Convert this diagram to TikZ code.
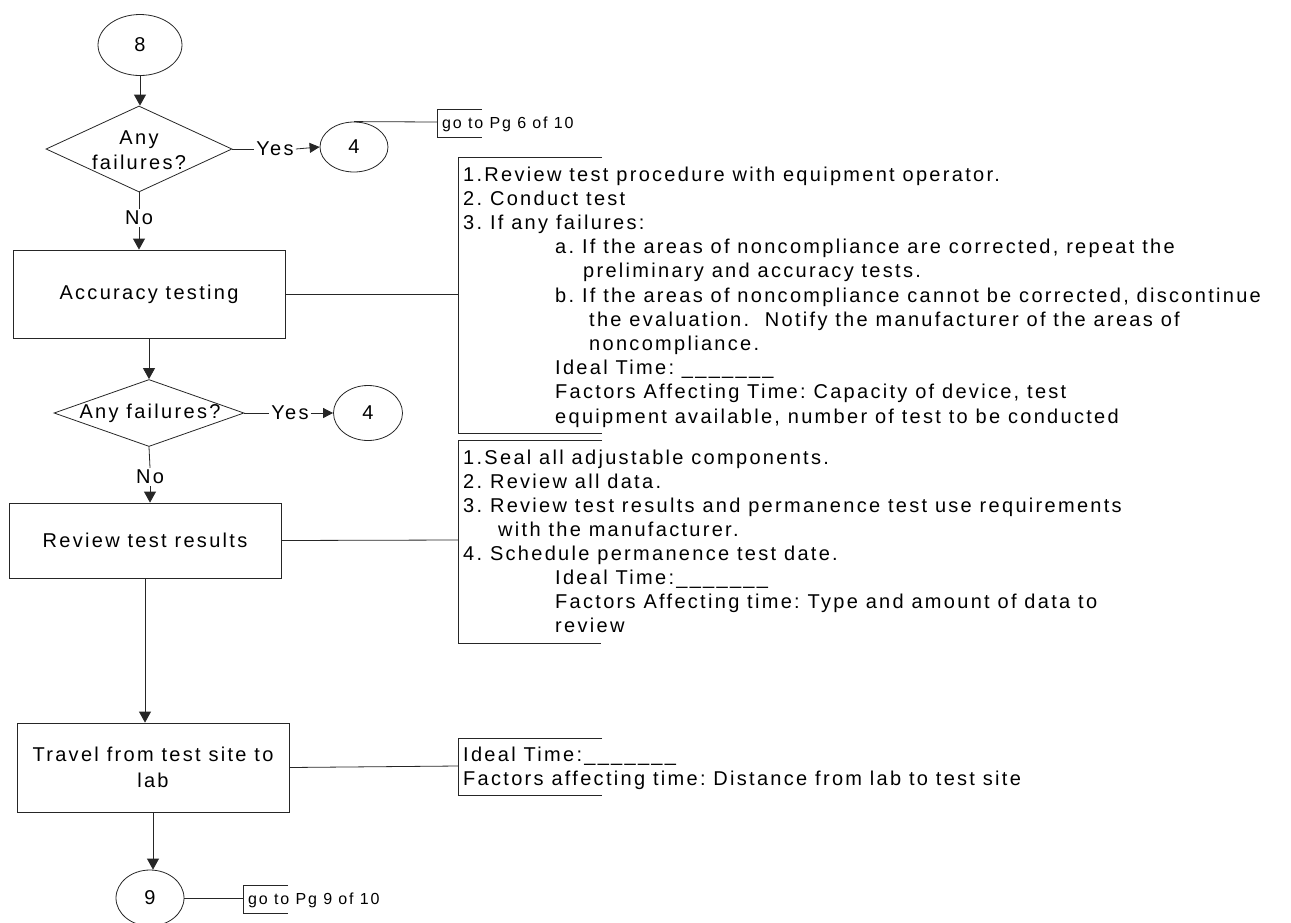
\documentclass[tikz,border=0pt]{standalone}
\usepackage{fontspec}
\setmainfont{Liberation Sans}[LetterSpace=11.5]
\usetikzlibrary{shapes.geometric,arrows.meta}
\newcommand{\ind}[1]{\hspace*{#1pt}}
\frenchspacing
\tikzset{
  ln/.style={line width=0.8pt, draw=black!85},
  arr/.style={ln, -{Triangle[length=11pt,width=12pt]}},
  harr/.style={ln, -{Triangle[length=10pt,width=10pt]}},
  oval/.style={ellipse, ln, inner sep=0pt, font=\fontsize{20}{24}\selectfont},
  proc/.style={rectangle, ln, inner sep=0pt, align=center, font=\fontsize{20}{26}\selectfont},
  dec/.style={diamond, ln, inner sep=0pt},
  dectext/.style={inner sep=0pt, align=center, font=\fontsize{20}{25}\selectfont},
  lbl/.style={inner sep=2pt, font=\fontsize{20}{24}\selectfont},
  note/.style={inner sep=0pt, anchor=base west, font=\fontsize{20}{24}\selectfont},
  gonote/.style={inner sep=0pt, anchor=base west, font=\fontsize{16}{20}\selectfont},
}
\begin{document}
\begin{tikzpicture}[x=1pt,y=-1pt]
\useasboundingbox (0,0) rectangle (1291,922);

% flow nodes
\node[oval, minimum width=84pt, minimum height=61pt] (c8) at (140,45) {8};
\node[dec, minimum width=186pt, minimum height=86pt] (d1) at (139,149) {};
\node[dectext] (d1t) at (139,150) {Any\\failures?};
\node[lbl] (yes1) at (275,149) {Yes};
\node[oval, minimum width=68pt, minimum height=50pt] (c4a) at (354,147) {4};
\node[lbl] (no1) at (139,218) {No};
\node[proc, minimum width=272pt, minimum height=88pt] (acc) at (149,294) {Accuracy testing};
\node[dec, minimum width=190pt, minimum height=67pt] (d2) at (149,413) {};
\node[dectext] (d2t) at (150,413) {Any failures?};
\node[lbl] (yes2) at (290,413) {Yes};
\node[oval, minimum width=69pt, minimum height=55pt] (c4b) at (368,413) {4};
\node[lbl] (no2) at (150,477) {No};
\node[proc, minimum width=272pt, minimum height=75pt] (rev) at (145,540.5) {Review test results};
\node[proc, minimum width=272pt, minimum height=89pt] (trav) at (153,767.5) {Travel from test site to\\lab};
\node[oval, minimum width=68pt, minimum height=56pt] (c9) at (150,898) {9};

% bracket attach points
\coordinate (g1) at (437,122);
\coordinate (b1) at (458,294);
\coordinate (b2) at (458,540);
\coordinate (b3) at (458,766);
\coordinate (g2) at (243,898);

% brackets
\draw[ln] (482,109) -| (437,137) -- (482,137);
\draw[ln] (602,157) -| (458,433) -- (602,433);
\draw[ln] (602,440) -| (458,643) -- (601,643);
\draw[ln] (602,738) -| (458,795) -- (602,795);
\draw[ln] (288,885) -| (243,913) -- (288,913);

% bracket texts
\node[gonote] (gt1) at (442,128) {go to Pg 6 of 10};
\node[gonote] (gt2) at (248,904) {go to Pg 9 of 10};

\node[note, font=\fontsize{20}{24.2}\selectfont] (n1) at (463,181) {\begin{tabular}[t]{@{}l@{}}
1.Review test procedure with equipment operator.\\
2. Conduct test\\
3. If any failures:\\
\ind{92}a. If the areas of noncompliance are corrected, repeat the\\
\ind{120}preliminary and accuracy tests.\\
\ind{92}b. If the areas of noncompliance cannot be corrected, discontinue\\
\ind{126}the evaluation.\ \ Notify the manufacturer of the areas of\\
\ind{126}noncompliance.\\
\ind{92}Ideal Time: \_\_\_\_\_\_\_\\
\ind{92}Factors Affecting Time: Capacity of device, test\\
\ind{92}equipment available, number of test to be conducted
\end{tabular}};

\node[note] (n2) at (463,464) {\begin{tabular}[t]{@{}l@{}}
1.Seal all adjustable components.\\
2. Review all data.\\
3. Review test results and permanence test use requirements\\
\ind{35}with the manufacturer.\\
4. Schedule permanence test date.\\
\ind{92}Ideal Time:\_\_\_\_\_\_\_\\
\ind{92}Factors Affecting time: Type and amount of data to\\
\ind{92}review
\end{tabular}};

\node[note] (n3) at (463,761) {\begin{tabular}[t]{@{}l@{}}
Ideal Time:\_\_\_\_\_\_\_\\
Factors affecting time: Distance from lab to test site
\end{tabular}};

% connectors
\draw[arr] (c8.south) -- (c8.south |- d1.north);
\draw[ln] (d1.east) -- (yes1.west);
\draw[harr] (yes1.east) -- (c4a.west);
\draw[ln] (c4a.north) -- (g1);
\draw[ln] (d1.south) -- (no1.north);
\draw[arr] (no1.south) -- (no1.south |- acc.north);
\draw[ln] (acc.east) -- (b1);
\draw[arr] (acc.south) -- (d2.north);
\draw[ln] (d2.east) -- (yes2.west);
\draw[harr] (yes2.east) -- (c4b.west);
\draw[ln] (d2.south) -- (no2.north);
\draw[arr] (no2.south) -- (no2.south |- rev.north);
\draw[ln] (rev.east) -- (b2);
\draw[arr] (rev.south) -- (rev.south |- trav.north);
\draw[ln] (trav.east) -- (b3);
\draw[arr] (trav.south) -- (trav.south |- c9.north);
\draw[ln] (c9.east) -- (g2);
\end{tikzpicture}
\end{document}
